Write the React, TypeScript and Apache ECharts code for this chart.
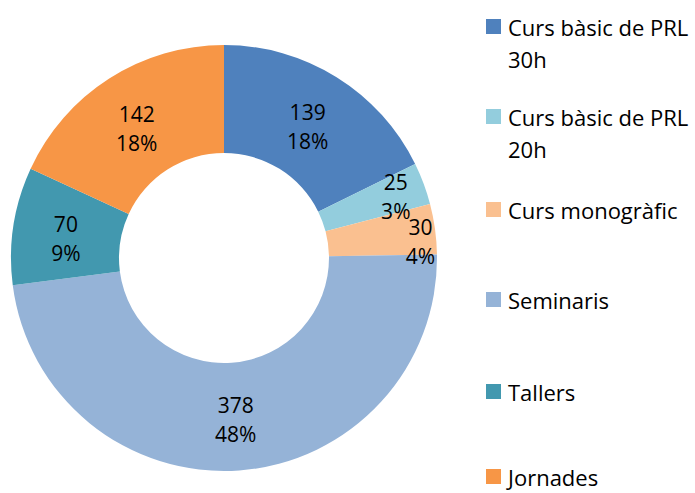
import React, { useEffect, useRef } from "react";
import * as echarts from "echarts";

const categories = [
  "Curs bàsic de PRL 30h",
  "Curs bàsic de PRL 20h",
  "Curs monogràfic",
  "Seminaris",
  "Tallers",
  "Jornades",
];
const legendLines = [
  ["Curs bàsic de PRL", "30h"],
  ["Curs bàsic de PRL", "20h"],
  ["Curs monogràfic"],
  ["Seminaris"],
  ["Tallers"],
  ["Jornades"],
];
const values = [139, 25, 30, 378, 70, 142];
const colors = ["#4F81BD", "#93CDDD", "#FAC090", "#95B3D7", "#4298AF", "#F79646"];
const labelOffsets: Array<[number, number]> = [[-2, 6], [20, -5], [36, 6], [0, 0], [2, 5], [0, 7]];

const FONT = "Open Sans";

export default function App() {
  const ref = useRef<HTMLDivElement>(null);
  useEffect(() => {
    if (!ref.current) return;
    const chart = echarts.init(ref.current, null, { renderer: "svg" });
    const legendY = [27, 117, 210, 300, 392, 477];
    const graphic: any[] = [];
    categories.forEach((c, i) => {
      const multi = legendLines[i].length > 1;
      graphic.push({
        type: "rect",
        shape: { x: 486, y: legendY[i] - 8, width: 15, height: 15 },
        style: { fill: colors[i] },
        silent: true,
      });
      graphic.push({
        type: "text",
        x: 508,
        y: multi ? legendY[i] - 16 : legendY[i],
        style: {
          text: legendLines[i].join("\n"),
          fontFamily: FONT,
          fontSize: 22,
          lineHeight: multi ? 32 : 22,
          fill: "#000",
          verticalAlign: multi ? "top" : "middle",
          align: "left",
        },
        silent: true,
      });
    });
    chart.setOption({
      animation: false,
      backgroundColor: "#ffffff",
      graphic,
      series: [
        {
          type: "pie",
          name: "Activitats",
          center: [224, 258],
          radius: [105, 213],
          startAngle: 90,
          clockwise: true,
          percentPrecision: 0,
          avoidLabelOverlap: false,
          labelLayout: { hideOverlap: false },
          label: {
            show: true,
            position: "inside",
            formatter: "{c}\n{d}%",
            fontFamily: FONT,
            fontSize: 21,
            lineHeight: 29,
            color: "#000",
          },
          labelLine: { show: false },
          emphasis: { disabled: true },
          data: categories.map((c, i) => ({
            name: c,
            value: values[i],
            itemStyle: { color: colors[i] },
            label: { offset: labelOffsets[i] },
          })),
        },
      ],
    });
    return () => chart.dispose();
  }, []);
  return (
    <div
      ref={ref}
      style={{ position: "absolute", left: 0, top: 0, width: 695, height: 493 }}
    />
  );
}
